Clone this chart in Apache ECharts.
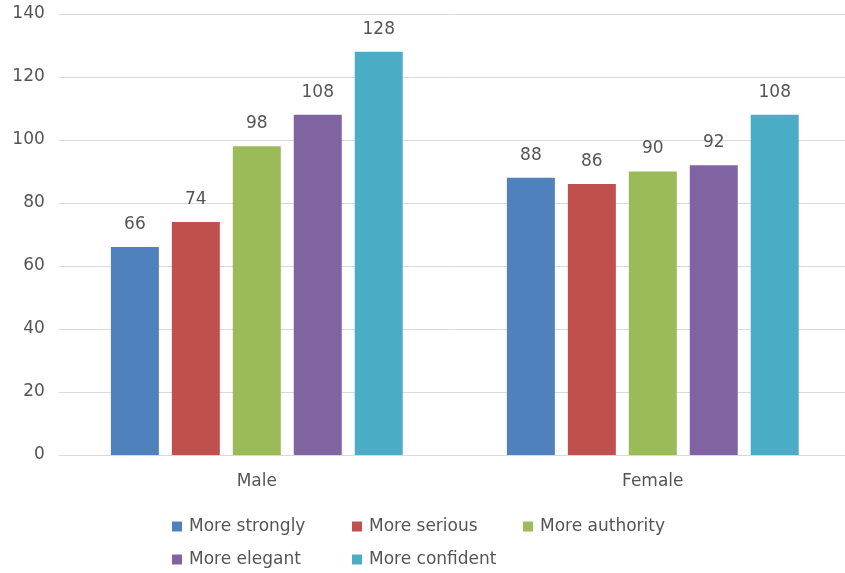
<!DOCTYPE html>
<html>
<head>
<meta charset="utf-8">
<script src="https://cdn.jsdelivr.net/npm/echarts@6/dist/echarts.min.js"></script>
<style>html,body{margin:0;padding:0;background:#fff;overflow:hidden;width:845px;height:573px}#c{width:852px;height:573px}</style>
</head>
<body>
<div id="c"></div>
<script>
const categories = ["Male", "Female"];
const seriesNames = ["More strongly", "More serious", "More authority", "More elegant", "More confident"];
const moreStrongly = [66, 88];
const moreSerious = [74, 86];
const moreAuthority = [98, 90];
const moreElegant = [108, 92];
const moreConfident = [128, 108];
const yTicks = [0, 20, 40, 60, 80, 100, 120, 140];

const colors = ["#4F81BD", "#C0504D", "#9BBB59", "#8064A2", "#4BACC6"];
const values = [moreStrongly, moreSerious, moreAuthority, moreElegant, moreConfident];
const FONT = "DejaVu Sans";
const legendPos = [[172, 518], [352, 518], [523, 518], [172, 551], [352, 551]];

const chart = echarts.init(document.getElementById('c'), null, {renderer: 'canvas'});
chart.setOption({
  animation: false,
  color: colors,
  textStyle: {fontFamily: FONT},
  grid: {left: 58.8, top: 14, width: 792, bottom: 118, containLabel: false},
  legend: seriesNames.map((n, i) => ({
    data: [n],
    left: legendPos[i][0],
    top: legendPos[i][1],
    icon: 'rect',
    itemWidth: 10,
    itemHeight: 10,
    itemGap: 9,
    textStyle: {fontFamily: FONT, fontSize: 17, color: '#555555', padding: [0, 0, 0, 2]},
    padding: 0
  })),
  xAxis: {
    type: 'category',
    data: categories,
    axisLine: {show: true, lineStyle: {color: '#d9d9d9', width: 1}},
    axisTick: {show: false},
    axisLabel: {fontFamily: FONT, fontSize: 17, color: '#555555', margin: 18}
  },
  yAxis: {
    type: 'value',
    min: yTicks[0],
    max: yTicks[yTicks.length - 1],
    interval: 20,
    axisLine: {show: false},
    axisTick: {show: false},
    splitLine: {lineStyle: {color: '#d9d9d9', width: 1}},
    axisLabel: {fontFamily: FONT, fontSize: 17, color: '#555555', margin: 14}
  },
  series: seriesNames.map((n, i) => ({
    name: n,
    type: 'bar',
    data: values[i],
    barWidth: 48,
    barGap: '27%',
    itemStyle: {color: colors[i]},
    label: {show: true, position: 'top', distance: 14, fontFamily: FONT, fontSize: 17, color: '#555555'}
  }))
});
</script>
</body>
</html>
